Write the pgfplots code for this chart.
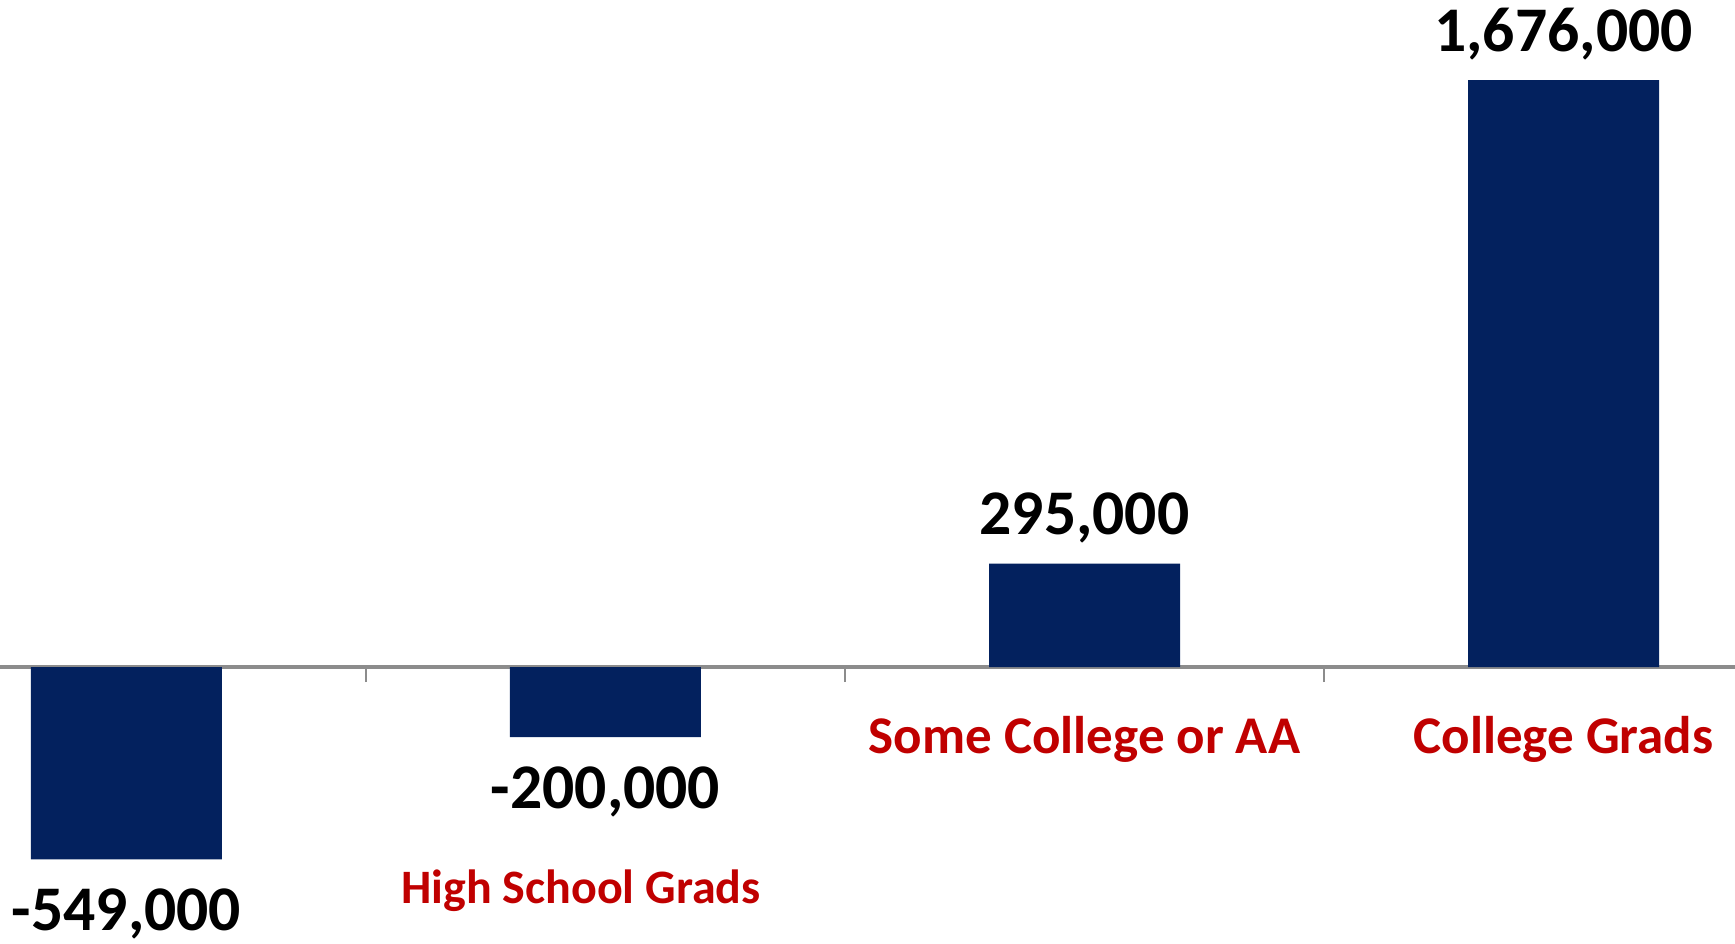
\documentclass[border=0pt]{standalone}
\usepackage{pgfplots}
\pgfplotsset{compat=1.18}
\usepackage{fontspec}
\setmainfont{Carlito}
\definecolor{navy}{HTML}{03215E}
\definecolor{lblred}{HTML}{C00000}
\definecolor{axgray}{HTML}{8C8C8C}
\begin{document}
\begin{tikzpicture}
\begin{axis}[
  width=867.5pt, height=471.5pt, scale only axis,
  xmin=-0.264, xmax=3.358, ymin=-788100, ymax=1904600,
  axis x line=middle, axis y line=none,
  x axis line style={-, draw=axgray, line width=2pt},
  xtick={0,1,2,3}, xticklabels={,,Some College or AA,College Grads},
  major tick length=0pt,
  tick align=outside,
  extra x ticks={0.5,1.5,2.5}, extra x tick labels={,,},
  extra x tick style={major tick length=7.5pt, tick style={draw=axgray, line width=1.25pt}},
  xticklabel style={anchor=base, yshift=-43pt, font=\fontsize{26.5}{32}\selectfont\bfseries, text=lblred},
  ytick=\empty,
  ybar, bar width=95.5pt,
  clip=false,
  /pgf/number format/.cd, fixed, precision=0, 1000 sep={,}, assume math mode=true,
  /pgfplots/.cd,
  nodes near coords,
  nodes near coords style={font=\fontsize{31.8}{38}\selectfont\bfseries, text=black},
]
\addplot[fill=navy, draw=none, bar shift=0pt,
  nodes near coords style={anchor=base, yshift=14.5pt}]
  coordinates {(2,295000) (3,1676000)};
\addplot[fill=navy, draw=none, bar shift=0pt,
  nodes near coords style={anchor=base, yshift=-35.5pt}]
  coordinates {(0,-549000) (1,-200000)};
\node[anchor=base, font=\fontsize{24}{29}\selectfont\bfseries, text=lblred, xshift=-12.25pt, yshift=-118.2pt] at (axis cs:1,0) {High School Grads};
\end{axis}
\pgfresetboundingbox
\path[use as bounding box] (current axis.south west) rectangle (current axis.north east);
\end{tikzpicture}
\end{document}
